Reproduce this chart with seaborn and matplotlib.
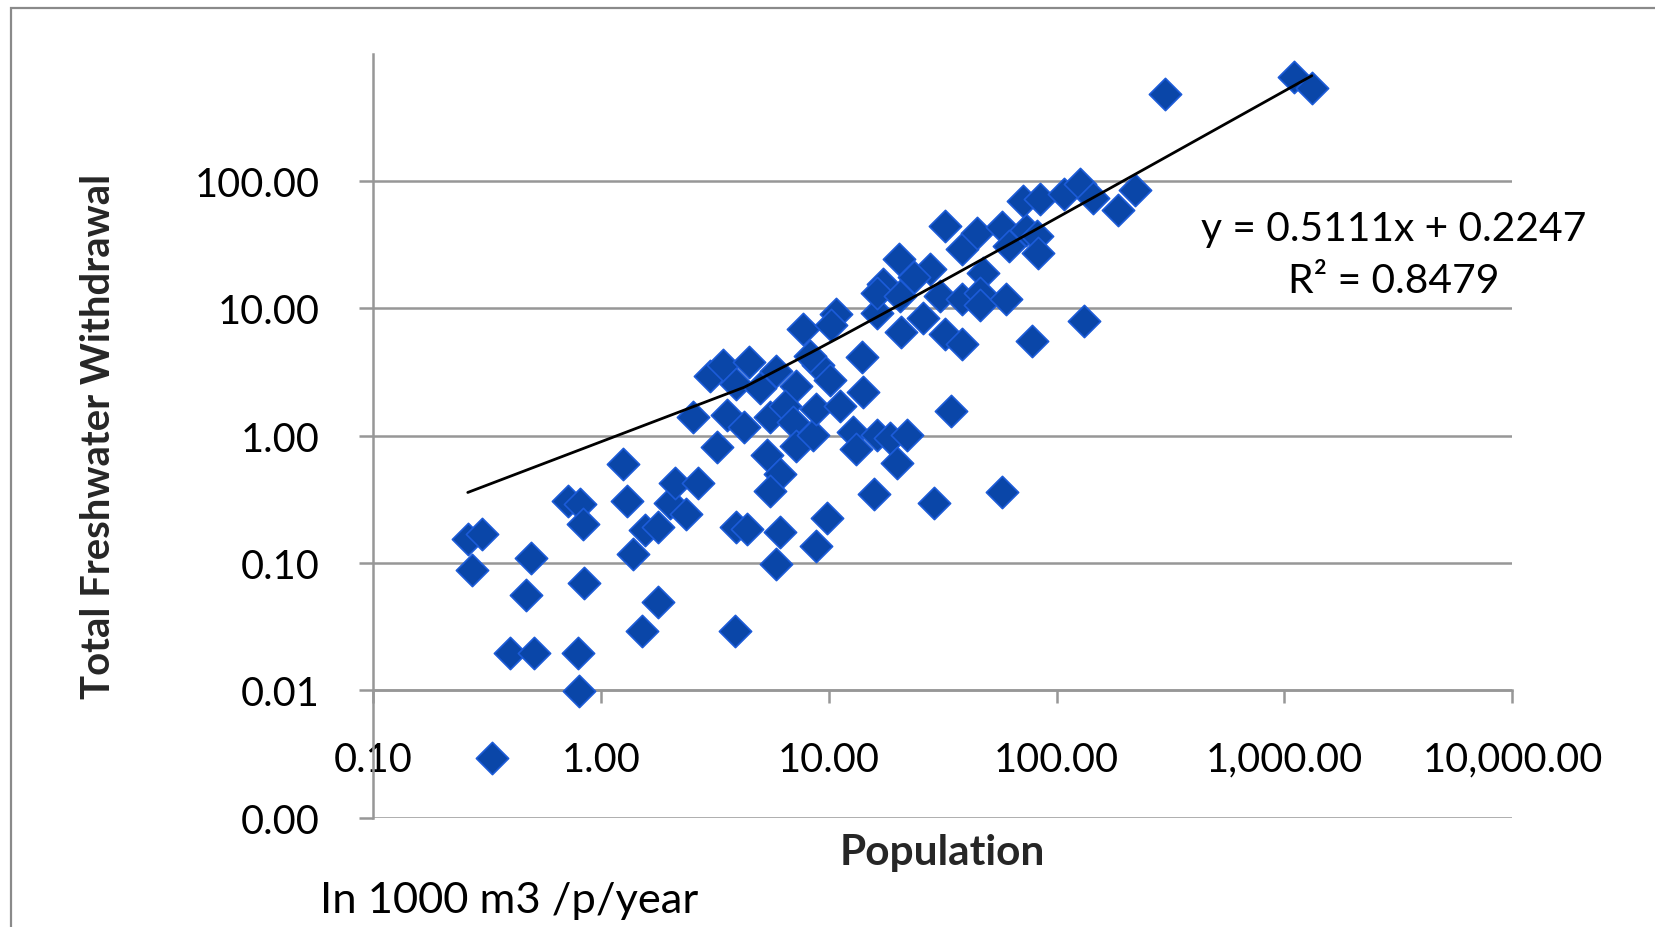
import numpy as np
import pandas as pd
import matplotlib
matplotlib.use("Agg")
import matplotlib.pyplot as plt
import seaborn as sns
from matplotlib.ticker import NullLocator
from matplotlib.patches import Rectangle

# ---------------- data ----------------
population = [
    0.261, 0.300, 0.273, 0.470, 0.496, 0.400, 0.512, 0.792, 0.801, 0.845,
    0.720, 0.810, 0.836, 1.254, 1.309, 1.380, 1.569, 1.783, 1.783, 1.519,
    2.005, 2.115, 2.675, 2.378, 3.242, 3.928, 3.885, 3.007, 3.454, 4.463,
    5.891, 9.025, 10.15, 7.215, 3.928, 5.020, 2.536, 3.567, 4.232, 5.525,
    6.414, 6.984, 7.215, 8.554, 8.836, 11.17, 14.13, 12.83, 13.25, 16.23,
    18.65, 22.13, 19.88, 5.352, 6.148, 5.525, 15.89, 28.88, 4.367, 6.148,
    9.83, 8.836, 5.891, 7.691, 10.82, 10.26, 16.23, 20.75, 25.96, 32.49,
    38.5, 13.98, 34.26, 32.49, 38.5, 44.74, 57.8, 61.6, 73.1, 82.2,
    83.0, 71.5, 84.8, 107.3, 127.3, 144.6, 221.6, 186.9, 20.3, 27.97,
    23.58, 47.7, 17.3, 16.23, 20.5, 30.8, 38.5, 46.2, 46.2, 60.3,
    77.9, 131.4, 1099.0, 1317.0, 298.8, 57.8, 8.29,
]
withdrawal = [
    0.155, 0.168, 0.0875, 0.0564, 0.110, 0.0197, 0.0197, 0.0197, 0.0099, 0.0696,
    0.309, 0.292, 0.203, 0.603, 0.309, 0.117, 0.181, 0.191, 0.0493, 0.0294,
    0.297, 0.427, 0.427, 0.241, 0.818, 0.191, 0.0294, 2.943, 3.564, 3.775,
    3.239, 3.564, 2.727, 2.478, 2.527, 2.386, 1.397, 1.451, 1.176, 1.397,
    1.724, 1.270, 0.834, 1.01, 1.628, 1.724, 2.210, 1.069, 0.788, 1.01,
    0.953, 1.01, 0.614, 0.702, 0.498, 0.367, 0.346, 0.297, 0.184, 0.174,
    0.227, 0.136, 0.0981, 6.954, 9.09, 7.37, 9.26, 6.565, 8.42, 6.32,
    5.22, 4.15, 1.567, 44.4, 29.2, 38.8, 43.5, 30.9, 41.1, 37.4,
    27.5, 70.2, 73.0, 78.8, 95.3, 74.3, 85.0, 59.1, 24.5, 20.3,
    17.7, 19.15, 15.5, 13.3, 12.6, 12.6, 11.9, 13.3, 10.6, 11.9,
    5.53, 7.95, 656.5, 542.5, 483.7, 0.360, 4.23,
]

trend_slope = 0.5111
trend_intercept = 0.2247
trend_r2 = 0.8479

x_ticks = [0.1, 1, 10, 100, 1000, 10000]
x_tick_labels = ["0.10", "1.00", "10.00", "100.00", "1,000.00", "10,000.00"]
y_ticks = [0.001, 0.01, 0.1, 1, 10, 100]
y_tick_labels = ["0.00", "0.01", "0.10", "1.00", "10.00", "100.00"]

x_title = "Population"
y_title = "Total Freshwater Withdrawal"
unit_note = "In 1000 m3 /p/year"

# ---------------- style ----------------
sns.set_theme(style="white")
plt.rcParams["font.family"] = ["Lato", "DejaVu Sans"]

GRID = "#979797"
FILL = "#0a46a8"
EDGE = "#1c5bd8"

W, H = 1656, 928
fig = plt.figure(figsize=(W / 100, H / 100), dpi=100)
fig.patch.set_facecolor("white")

left, right, top, bottom = 372.8, 1512.4, 54.9, 818.5
ax = fig.add_axes([left / W, 1 - bottom / H, (right - left) / W, (bottom - top) / H])
ax.set_facecolor("white")

df = pd.DataFrame({"pop": population, "wd": withdrawal})
sns.scatterplot(data=df, x="pop", y="wd", marker="D", s=270,
                color=FILL, edgecolor=EDGE, linewidth=1.2,
                ax=ax, zorder=3, legend=False)

# linear trendline (Excel style: evenly spaced in x)
xt = np.linspace(df["pop"].min(), df["pop"].max(), 330)
yt = trend_slope * xt + trend_intercept
ax.plot(xt, yt, color="black", lw=2.0, zorder=4)

ax.set_xscale("log")
ax.set_yscale("log")
ax.set_xlim(0.1, 10000)
ax.set_ylim(0.001, 1000)
ax.set_xticks(x_ticks, labels=x_tick_labels)
ax.set_yticks(y_ticks, labels=y_tick_labels)
ax.xaxis.set_minor_locator(NullLocator())
ax.yaxis.set_minor_locator(NullLocator())

ax.set_axisbelow(True)
ax.yaxis.grid(True, color=GRID, lw=1.8)
ax.xaxis.grid(False)

for s in ["top", "right"]:
    ax.spines[s].set_visible(False)
ax.spines["left"].set_color(GRID)
ax.spines["left"].set_linewidth(1.8)
ax.spines["bottom"].set_position(("data", 0.01))
ax.spines["bottom"].set_color(GRID)
ax.spines["bottom"].set_linewidth(1.8)

ax.tick_params(axis="y", which="major", direction="out", length=10, width=1.8,
               color=GRID, pad=28, labelsize=28.5, labelcolor="black", left=True)
ax.tick_params(axis="x", which="major", direction="out", length=9.4, width=1.8,
               color=GRID, pad=27, labelsize=28.5, labelcolor="black", bottom=True)

ax.set_xlabel(x_title, fontsize=30.5, fontweight="bold", va="center")
ax.xaxis.set_label_coords(0.5, (bottom - 853) / (bottom - top))
ax.set_ylabel(y_title, fontsize=28.8, fontweight="bold", va="center")
ax.yaxis.set_label_coords((99 - left) / (right - left), 0.5)

# trendline equation
ex = (1394 - left) / (right - left)
ax.text(ex, (bottom - 229) / (bottom - top),
        f"y = {trend_slope:.4f}x + {trend_intercept:.4f}",
        transform=ax.transAxes, ha="center", va="center", fontsize=29.3, color="black")
ax.text(ex, (bottom - 282) / (bottom - top), f"R² = {trend_r2:.4f}",
        transform=ax.transAxes, ha="center", va="center", fontsize=29.3, color="black")

# legend marker (no text)
handle = ax.collections[0]
ax.legend(handles=[handle], labels=[""], loc="center",
          bbox_to_anchor=(491.7 / W, 1 - 758.3 / H), bbox_transform=fig.transFigure,
          frameon=False, handletextpad=0, borderpad=0, borderaxespad=0,
          handlelength=1.0, scatterpoints=1, fontsize=27)

# note under chart
fig.text(320 / W, 1 - 901 / H, unit_note, ha="left", va="center", fontsize=31.3, color="black")

# chart-area border
fig.add_artist(Rectangle((10.5 / W, -0.2), 1.5, (H - 8.5) / H + 0.2, transform=fig.transFigure,
                         fill=False, edgecolor="#8a8a8a", lw=1.6, clip_on=False))

fig.savefig("out.png", dpi=100)
